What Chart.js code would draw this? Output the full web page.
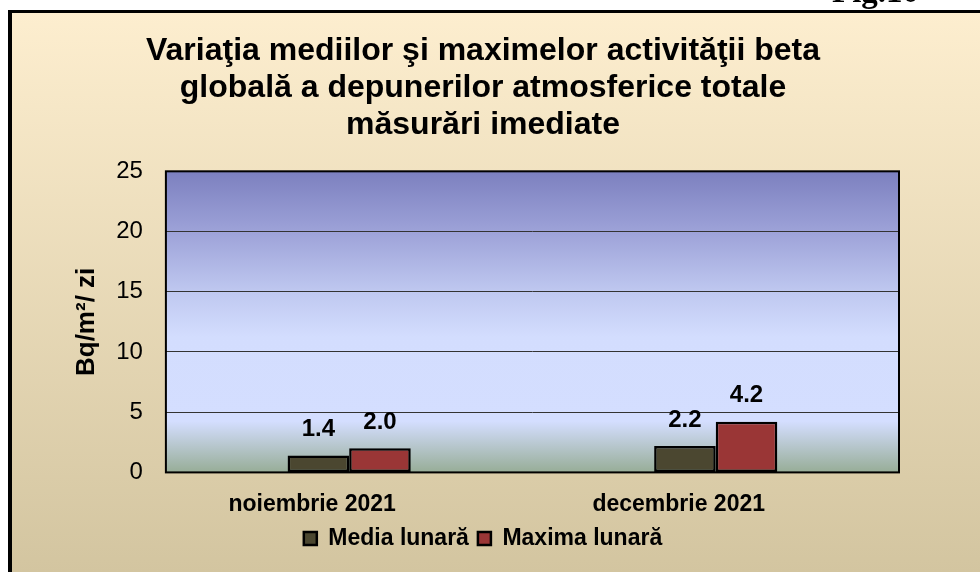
<!DOCTYPE html>
<html>
<head>
<meta charset="utf-8">
<script src="https://cdn.jsdelivr.net/npm/chart.js@4"></script>
<style>
  body { margin: 0; background: #fff; }
  canvas { display: block; }
</style>
</head>
<body>
<canvas id="myChart" width="980" height="572"></canvas>
<script>
var categories = ['noiembrie 2021', 'decembrie 2021'];
var mediaLunara = [1.4, 2.2];
var maximaLunara = [2.0, 4.2];
var yMin = 0;
var yMax = 25;
var yStep = 5;

var titleLines = [
    'Variaţia mediilor şi maximelor activităţii beta',
    'globală a depunerilor atmosferice totale',
    'măsurări imediate'
];

// page frame, Fig. number and plot gradient
var backgroundPlugin = {
    id: 'backgrounds',
    beforeDraw: function (chart) {
        var c = chart.ctx;
        var a = chart.chartArea;
        c.save();
        c.fillStyle = '#ffffff';
        c.fillRect(0, 0, chart.width, chart.height);

        var g = c.createLinearGradient(0, 12, 0, chart.height);
        g.addColorStop(0, '#fdeecf');
        g.addColorStop(1, '#d3c5a0');
        c.fillStyle = g;
        c.fillRect(10, 12, chart.width - 10, chart.height - 12);

        c.fillStyle = '#000';
        c.fillRect(8, 10, chart.width - 8, 3);
        c.fillRect(8, 10, 4, chart.height - 10);

        c.font = 'bold 33px "Liberation Serif", "Times New Roman", serif';
        c.textAlign = 'left';
        c.textBaseline = 'alphabetic';
        c.fillText('Fig.10', 832, 2);

        var pg = c.createLinearGradient(0, a.top, 0, a.bottom);
        pg.addColorStop(0, '#7c80bf');
        pg.addColorStop(0.2, '#9da2d8');
        pg.addColorStop(0.4, '#bfc8f0');
        pg.addColorStop(0.55, '#d3ddfe');
        pg.addColorStop(0.83, '#d4deff');
        pg.addColorStop(1, '#97ad97');
        c.fillStyle = pg;
        c.fillRect(a.left, a.top, a.right - a.left, a.bottom - a.top);
        c.restore();
    },
    beforeDatasetsDraw: function (chart) {
        var c = chart.ctx;
        var a = chart.chartArea;
        c.save();
        c.strokeStyle = '#000';
        c.lineWidth = 2;
        c.strokeRect(a.left, a.top, a.right - a.left, a.bottom - a.top);
        c.restore();
    }
};

// value labels above the bars
var valueLabels = {
    id: 'valueLabels',
    afterDatasetsDraw: function (chart) {
        var c = chart.ctx;
        c.save();
        c.font = 'bold 24px "Liberation Sans", Arial, sans-serif';
        c.fillStyle = '#000';
        c.textAlign = 'center';
        c.textBaseline = 'middle';
        chart.data.datasets.forEach(function (ds, i) {
            chart.getDatasetMeta(i).data.forEach(function (bar, j) {
                c.fillText(ds.data[j].toFixed(1), bar.x, bar.y - 26);
            });
        });
        c.restore();
    }
};

var ctx = document.getElementById('myChart').getContext('2d');
var myChart = new Chart(ctx, {
    type: 'bar',
    data: {
        labels: categories,
        datasets: [{
            label: 'Media lunară',
            data: mediaLunara,
            backgroundColor: '#4b4730',
            borderColor: '#000',
            borderWidth: 2.5,
            borderSkipped: false
        }, {
            label: 'Maxima lunară',
            data: maximaLunara,
            backgroundColor: '#9a3636',
            borderColor: '#000',
            borderWidth: 2.5,
            borderSkipped: false
        }]
    },
    options: {
        responsive: false,
        maintainAspectRatio: false,
        devicePixelRatio: 1,
        animation: false,
        datasets: {
            bar: { barPercentage: 1, categoryPercentage: 0.336 }
        },
        layout: {
            padding: { top: 12, left: 67, right: 81, bottom: 12 }
        },
        plugins: {
            title: {
                display: true,
                text: titleLines,
                color: '#000',
                font: { family: '"Liberation Sans", Arial, sans-serif', size: 32, weight: 'bold', lineHeight: 1.17 },
                padding: { top: 20, bottom: 27 }
            },
            legend: {
                position: 'bottom',
                labels: {
                    color: '#000',
                    boxWidth: 13,
                    boxHeight: 13,
                    padding: 9,
                    font: { family: '"Liberation Sans", Arial, sans-serif', size: 23, weight: 'bold' }
                }
            },
            tooltip: { enabled: false }
        },
        scales: {
            x: {
                grid: { display: true, drawOnChartArea: false, drawTicks: true, tickLength: 18, tickColor: 'transparent' },
                border: { display: false },
                ticks: {
                    color: '#000',
                    padding: 0,
                    labelOffset: -37,
                    font: { family: '"Liberation Sans", Arial, sans-serif', size: 23, weight: 'bold' }
                }
            },
            y: {
                min: yMin,
                max: yMax,
                grid: { color: '#333', lineWidth: 1, drawTicks: true, tickLength: 9, tickColor: 'transparent' },
                border: { display: false },
                ticks: {
                    stepSize: yStep,
                    color: '#000',
                    padding: 14,
                    font: { family: '"Liberation Sans", Arial, sans-serif', size: 24 }
                },
                title: {
                    display: true,
                    text: 'Bq/m²/ zi',
                    color: '#000',
                    padding: { top: 4, bottom: 0 },
                    font: { family: '"Liberation Sans", Arial, sans-serif', size: 26, weight: 'bold' }
                }
            }
        }
    },
    plugins: [backgroundPlugin, valueLabels]
});
</script>
</body>
</html>
